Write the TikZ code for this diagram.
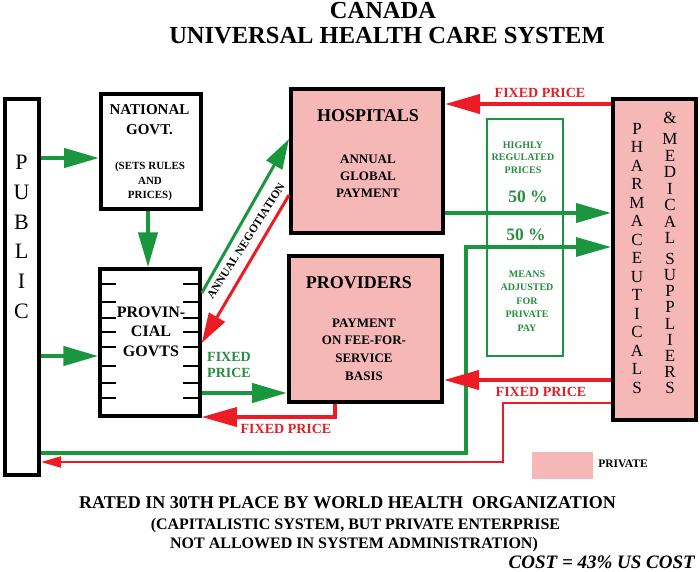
\documentclass[tikz,border=0pt]{standalone}
\usepackage{fontspec}
\setmainfont{Liberation Serif}
\usetikzlibrary{arrows.meta}
\definecolor{agreen}{RGB}{26,150,62}
\definecolor{tgreen}{RGB}{38,140,62}
\definecolor{ared}{RGB}{237,28,36}
\definecolor{tred}{RGB}{222,32,40}
\definecolor{pinkfill}{RGB}{246,183,183}
\newcommand{\fsz}[2]{\fontsize{#1}{#2}\selectfont}
\begin{document}
\begin{tikzpicture}[x=1pt,y=-1pt,
  box/.style={draw=black,line width=4pt,inner sep=0pt},
  txt/.style={inner sep=0pt,align=center},
  bigtip/.style={-{Triangle[length=35pt,width=19pt]}},
  diagtip/.style={-{Triangle[length=30pt,width=18pt]}},
  smalltip/.style={-{Triangle[length=20pt,width=11pt]}},
  garrow/.style={draw=agreen,line width=4.5pt,bigtip},
  rarrow/.style={draw=ared,line width=4pt,bigtip},
  tickline/.style={draw=black,line width=1.4pt}
]
\useasboundingbox (0,0) rectangle (700,571);

% title
\node[txt,anchor=base,font=\fsz{24.5}{29}\bfseries] (t1) at (383,18.5) {CANADA};
\node[txt,anchor=base,font=\fsz{24.5}{29}\bfseries] (t2) at (387,43) {UNIVERSAL HEALTH CARE SYSTEM};

% boxes
\node[box,minimum width=34pt,minimum height=376pt] (pub) at (22,287) {};
\node[box,minimum width=100pt,minimum height=115pt] (natl) at (151,151.5) {};
\node[box,line width=3.5pt,minimum width=100pt,minimum height=147pt] (prov) at (150,342.5) {};
\node[box,fill=pinkfill,minimum width=152pt,minimum height=144pt] (hosp) at (367,161) {};
\node[box,fill=pinkfill,minimum width=153pt,minimum height=146pt] (provd) at (365.5,329) {};
\node[box,fill=pinkfill,minimum width=83pt,minimum height=321pt] (pharma) at (654.5,259.5) {};
\node[draw=agreen,line width=2pt,inner sep=0pt,minimum width=76pt,minimum height=237pt] (reg) at (525,237.5) {};
\node[fill=pinkfill,inner sep=0pt,minimum width=61pt,minimum height=27pt] (leg) at (562.5,465.5) {};

% ticks of provincial box
\foreach \yy in {284,302,318,332,347,366,383,398}{
  \draw[tickline] (100,\yy) -- (116,\yy);
  \draw[tickline] (183,\yy) -- (200,\yy);
}

% texts in boxes
\node[txt,font=\fsz{22}{29.7}] (publ) at (21.5,236.75) {P\\U\\B\\L\\I\\C};
\node[txt,font=\fsz{15}{20}\bfseries] (natlt) at (149.5,120) {NATIONAL\\GOVT.};
\node[txt,font=\fsz{11}{14.5}\bfseries] (natls) at (150,181.5) {(SETS RULES\\AND\\PRICES)};
\node[txt,font=\fsz{16}{19.5}\bfseries] (provt) at (151,331.5) {PROVIN-\\CIAL\\GOVTS};
\node[txt,font=\fsz{18}{20}\bfseries] (hospt) at (368,116) {HOSPITALS};
\node[txt,font=\fsz{13}{17}\bfseries] (hosps) at (368,176) {ANNUAL\\GLOBAL\\PAYMENT};
\node[txt,font=\fsz{18}{20}\bfseries] (provdt) at (359,283) {PROVIDERS};
\node[txt,font=\fsz{13}{17.7}\bfseries] (provds) at (364,349.5) {PAYMENT\\ON FEE-FOR-\\SERVICE\\BASIS};
\node[txt,font=\fsz{17}{18.5}] (pharl) at (637,258.5) {P\\H\\A\\R\\M\\A\\C\\E\\U\\T\\I\\C\\A\\L\\S};
\node[txt,font=\fsz{17}{18.5}] (pharamp) at (670,118) {\&};
\node[txt,font=\fsz{17}{16.5}] (pharm) at (670,188.5) {M\\E\\D\\I\\C\\A\\L};
\node[txt,font=\fsz{17}{16.1}] (phars) at (670,323.5) {S\\U\\P\\P\\L\\I\\E\\R\\S};

% regulated box texts
\node[txt,text=tgreen,font=\fsz{10}{12.5}\bfseries] (regt) at (523,157.5) {HIGHLY\\REGULATED\\PRICES};
\node[txt,text=tgreen,font=\fsz{17.5}{20}\bfseries] (p1) at (528,197) {50 \%};
\node[txt,text=tgreen,font=\fsz{17.5}{20}\bfseries] (p2) at (526,235) {50 \%};
\node[txt,text=tgreen,font=\fsz{10}{13.5}\bfseries] (regb) at (527,301) {MEANS\\ADJUSTED\\FOR\\PRIVATE\\PAY};

% row coordinates
\coordinate (y104) at (0,104);
\coordinate (y139) at (0,139);
\coordinate (y158) at (0,158);
\coordinate (y195) at (0,195);
\coordinate (y213) at (0,213);
\coordinate (y293) at (0,293);
\coordinate (y343) at (0,343);
\coordinate (y356) at (0,356);
\coordinate (y380) at (0,380);
\coordinate (y393) at (0,393);
\coordinate (x148) at (148,0);
\coordinate (gc1) at (466,453);
\coordinate (gc2) at (466,247);
\coordinate (rc1) at (503,403);
\coordinate (rc2) at (503,462);
\coordinate (rc3) at (335,417);

% connectors
\draw[garrow] (pub.east |- y158) -- (natl.west |- y158);
\draw[garrow] (natl.south -| x148) -- (prov.north -| x148);
\draw[garrow] (pub.east |- y356) -- (prov.west |- y356);
\draw[draw=agreen,line width=3pt,diagtip] (prov.east |- y293) -- (hosp.west |- y139);
\draw[draw=ared,line width=3pt,diagtip] (hosp.west |- y195) -- (prov.east |- y343);
\draw[rarrow] (pharma.west |- y104) -- (hosp.east |- y104);
\draw[garrow,line width=4pt] (hosp.east |- y213) -- (pharma.west |- y213);
\draw[garrow,line width=3.3pt] (pub.east |- gc1) -- (gc1) -- (gc2) -- (pharma.west |- gc2);
\draw[rarrow] (pharma.west |- y380) -- (provd.east |- y380);
\draw[draw=ared,line width=2pt,smalltip] (pharma.west |- rc1) -- (rc1) -- (rc2) -- (pub.east |- rc2);
\draw[garrow] (prov.east |- y393) -- (provd.west |- y393);
\draw[rarrow,line width=3.3pt] (provd.south -| rc3) -- (rc3) -- (prov.east |- rc3);

% labels
\node[txt,text=tred,font=\fsz{14}{16}\bfseries] (l1) at (540,93) {FIXED PRICE};
\node[txt,text=tred,font=\fsz{14}{16}\bfseries] (l2) at (541,392) {FIXED PRICE};
\node[txt,text=tred,font=\fsz{14}{16}\bfseries] (l3) at (286,429) {FIXED PRICE};
\node[txt,align=left,anchor=west,text=tgreen,font=\fsz{14}{16}\bfseries] (l4) at (207,365) {FIXED\\PRICE};
\node[txt,rotate=57.5,font=\fsz{11.5}{13}\bfseries] (l5) at (246,241) {ANNUAL NEGOTIATION};
\node[txt,font=\fsz{11.5}{13}\bfseries] (legt) at (623,463.5) {PRIVATE};

% bottom text
\node[txt,font=\fsz{18}{20}\bfseries] (b1) at (347.5,503) {RATED IN 30TH PLACE BY WORLD HEALTH\ \ ORGANIZATION};
\node[txt,font=\fsz{16}{18}\bfseries] (b2) at (355.5,525.5) {(CAPITALISTIC SYSTEM, BUT PRIVATE ENTERPRISE};
\node[txt,font=\fsz{16}{18}\bfseries] (b3) at (354,544.5) {NOT ALLOWED IN SYSTEM ADMINISTRATION)};
\node[txt,anchor=east,font=\fsz{19}{20}\bfseries\itshape] (b4) at (695,562) {COST = 43\% US COST};
\end{tikzpicture}
\end{document}
